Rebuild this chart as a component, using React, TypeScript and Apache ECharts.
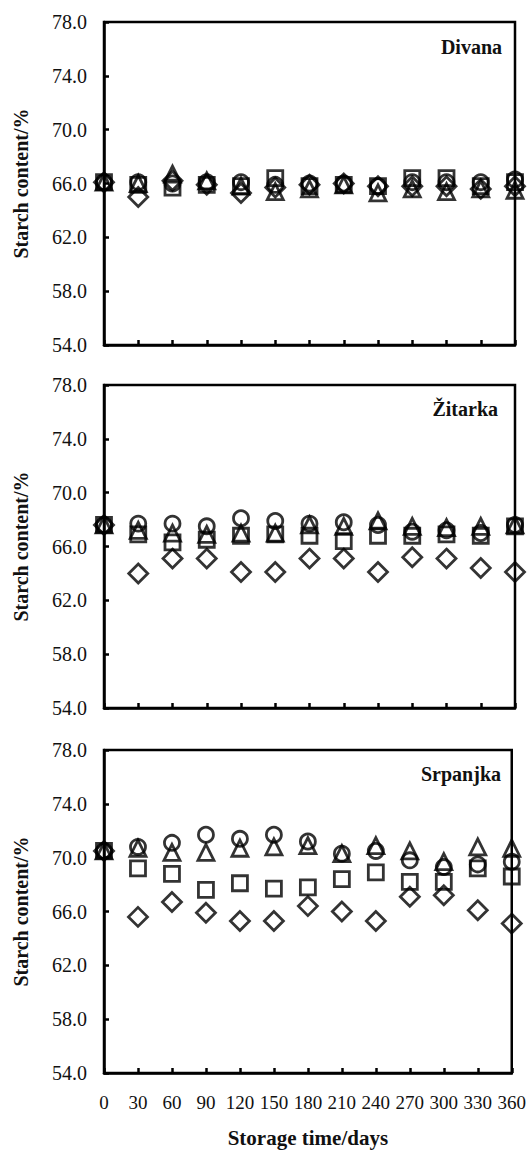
import React, { useEffect, useRef } from "react";
import * as echarts from "echarts";

const days = [0, 30, 60, 90, 120, 150, 180, 210, 240, 270, 300, 330, 360];
const panelNames = ["Divana", "Žitarka", "Srpanjka"];
const yTicks = [54, 58, 62, 66, 70, 74, 78];

// Divana
const divanaCircle = [66.1, 66.1, 66.0, 66.1, 66.1, 65.9, 66.0, 66.0, 65.8, 66.1, 66.1, 66.1, 66.3];
const divanaTriangle = [66.1, 66.0, 66.7, 66.2, 65.8, 65.4, 65.6, 65.9, 65.3, 65.6, 65.4, 65.6, 65.5];
const divanaSquare = [66.1, 65.9, 65.7, 65.9, 65.8, 66.4, 65.8, 65.9, 65.8, 66.4, 66.4, 65.8, 66.1];
const divanaDiamond = [66.1, 65.0, 66.2, 65.9, 65.3, 65.7, 65.9, 66.0, 65.8, 65.8, 65.8, 65.6, 65.8];

// Žitarka
const zitarkaCircle = [67.6, 67.7, 67.7, 67.5, 68.1, 67.9, 67.7, 67.8, 67.6, 67.1, 67.2, 67.0, 67.6];
const zitarkaTriangle = [67.6, 67.2, 67.0, 66.9, 67.0, 67.0, 67.6, 67.5, 67.9, 67.5, 67.4, 67.5, 67.6];
const zitarkaSquare = [67.6, 66.9, 66.3, 66.5, 66.8, 66.9, 66.8, 66.4, 66.8, 66.8, 66.9, 66.8, 67.5];
const zitarkaDiamond = [67.6, 64.0, 65.1, 65.1, 64.1, 64.1, 65.1, 65.1, 64.1, 65.2, 65.1, 64.4, 64.1];

// Srpanjka
const srpanjkaCircle = [70.5, 70.8, 71.1, 71.7, 71.4, 71.7, 71.2, 70.3, 70.5, 69.8, 69.3, 69.5, 69.7];
const srpanjkaTriangle = [70.5, 70.7, 70.4, 70.4, 70.7, 70.8, 70.9, 70.3, 70.9, 70.5, 69.7, 70.8, 70.7];
const srpanjkaSquare = [70.5, 69.2, 68.8, 67.6, 68.1, 67.7, 67.8, 68.4, 68.9, 68.2, 68.2, 69.2, 68.6];
const srpanjkaDiamond = [70.5, 65.6, 66.7, 65.9, 65.3, 65.3, 66.4, 66.0, 65.3, 67.1, 67.2, 66.1, 65.1];

const panelData = [
  [divanaCircle, divanaTriangle, divanaSquare, divanaDiamond],
  [zitarkaCircle, zitarkaTriangle, zitarkaSquare, zitarkaDiamond],
  [srpanjkaCircle, srpanjkaTriangle, srpanjkaSquare, srpanjkaDiamond],
];
const symbols = ["circle", "triangle", "rect", "diamond"];
const symbolSizes = [15, 16, 15, 19];

const FONT = "'Liberation Serif', 'Times New Roman', serif";

export default function App() {
  const ref = useRef<HTMLDivElement>(null);
  useEffect(() => {
    if (!ref.current) return;
    const chart = echarts.init(ref.current, undefined, { renderer: "svg" });
    const gridTops = [22, 385, 750];
    const gridH = 323;
    const titleTops = [37, 399, 764];
    const titleRights = [27, 31, 28];

    const grids = gridTops.map((t) => ({
      left: 104,
      right: 14,
      top: t,
      height: gridH,
      show: true,
      borderColor: "#000",
      borderWidth: 2.5,
      backgroundColor: "transparent",
    }));

    const xAxes = gridTops.map((_, i) => ({
      type: "value",
      gridIndex: i,
      min: 0,
      max: 360,
      interval: 30,
      splitLine: { show: false },
      axisLine: { show: true, onZero: false, lineStyle: { color: "#000", width: 2.5 } },
      axisTick: { show: true, inside: true, length: 5, lineStyle: { color: "#000", width: 2.5 } },
      axisLabel: {
        show: i === 2,
        margin: 20,
        fontSize: 19,
        color: "#111",
        fontFamily: FONT,
        formatter: (v: number) => String(v),
      },
      name: i === 2 ? "Storage time/days" : "",
      nameLocation: "middle",
      nameGap: 54,
      nameTextStyle: { fontSize: 21, fontWeight: "bold", color: "#111", fontFamily: FONT },
    }));

    const yAxes = gridTops.map((_, i) => ({
      type: "value",
      gridIndex: i,
      min: yTicks[0],
      max: yTicks[yTicks.length - 1],
      interval: 4,
      splitLine: { show: false },
      axisLine: { show: true, onZero: false, lineStyle: { color: "#000", width: 2.5 } },
      axisTick: { show: true, inside: true, length: 5, lineStyle: { color: "#000", width: 2.5 } },
      axisLabel: {
        margin: 17,
        fontSize: 20,
        color: "#111",
        fontFamily: FONT,
        formatter: (v: number) => v.toFixed(1),
      },
      name: "Starch content/%",
      nameLocation: "middle",
      nameGap: 73,
      nameTextStyle: { fontSize: 20, fontWeight: "bold", color: "#111", fontFamily: FONT },
    }));

    const series: any[] = [];
    panelData.forEach((sets, p) => {
      sets.forEach((vals, s) => {
        series.push({
          type: "scatter",
          xAxisIndex: p,
          yAxisIndex: p,
          symbol: symbols[s],
          symbolSize: symbolSizes[s],
          itemStyle: { color: "rgba(0,0,0,0)", borderColor: "#000", borderWidth: 2.8 },
          data: days.map((d, k) => [d, vals[k]]),
          clip: false,
          z: 3,
        });
      });
    });

    const titles = panelNames.map((n, i) => ({
      text: n,
      right: titleRights[i],
      top: titleTops[i],
      padding: 0,
      textStyle: { fontSize: 20, fontWeight: "bold", color: "#111", fontFamily: FONT },
    }));

    chart.setOption({
      animation: false,
      backgroundColor: "#fff",
      title: titles,
      grid: grids,
      xAxis: xAxes,
      yAxis: yAxes,
      series,
    });
    return () => chart.dispose();
  }, []);
  return (
    <div
      ref={ref}
      style={{ position: "absolute", left: 0, top: 0, width: 529, height: 1154 }}
    />
  );
}
